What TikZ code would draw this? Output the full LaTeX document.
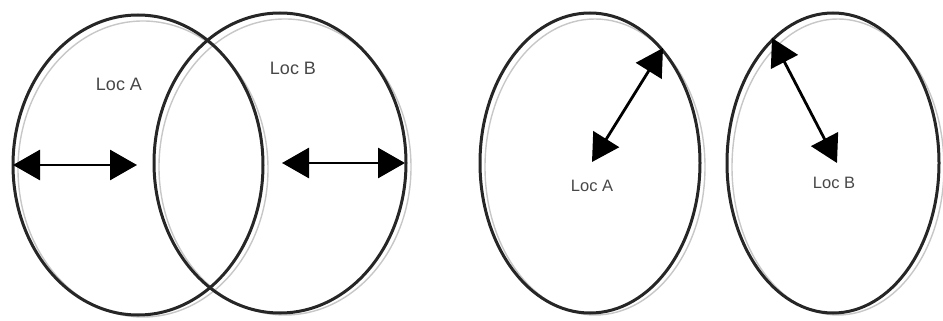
\documentclass[tikz,border=0pt]{standalone}
\usepackage{fontspec}
\setmainfont{Liberation Sans}
\usetikzlibrary{arrows.meta}
\begin{document}
\begin{tikzpicture}[x=1pt,y=-1pt,
  ring/.style={line width=3pt, draw=black!85},
  ghost/.style={line width=1.4pt, draw=black!22},
  dbl/.style={line width=2.8pt, draw=black, {Triangle[length=27pt,width=30pt]}-{Triangle[length=27pt,width=30pt]}},
  lbl/.style={font=\fontsize{18}{18}\selectfont, text=black!72, inner sep=0pt},
  lbls/.style={font=\fontsize{16.5}{16.5}\selectfont, text=black!72, inner sep=0pt}]
\useasboundingbox (0,0) rectangle (943,321);
% centres
\coordinate (cA) at (138,165);
\coordinate (cB) at (280,163);
\coordinate (cC) at (590,163);
\coordinate (cD) at (833,163);
% grey shadow rings
\draw[ghost] ([shift={(5,4)}]cA) ellipse [x radius=125pt, y radius=148pt];
\draw[ghost] ([shift={(5,4)}]cB) ellipse [x radius=126pt, y radius=148pt];
\draw[ghost] ([shift={(5,4)}]cC) ellipse [x radius=110pt, y radius=148pt];
\draw[ghost] ([shift={(5,4)}]cD) ellipse [x radius=106pt, y radius=148pt];
% black rings
\draw[ring] (cA) ellipse [x radius=125pt, y radius=150pt];
\draw[ring] (cB) ellipse [x radius=126pt, y radius=150pt];
\draw[ring] (cC) ellipse [x radius=110pt, y radius=150pt];
\draw[ring] (cD) ellipse [x radius=106pt, y radius=150pt];
% arrow end points
\coordinate (a1) at (13,165);
\coordinate (a2) at (137,165);
\coordinate (b1) at (282,163);
\coordinate (b2) at (405,163);
\coordinate (c1) at (592,162);
\coordinate (c2) at (663,48);
\coordinate (d1) at (772,38);
\coordinate (d2) at (837,163);
\draw[dbl] (a1) -- (a2);
\draw[dbl] (b1) -- (b2);
\draw[dbl] (c1) -- (c2);
\draw[dbl] (d1) -- (d2);
% labels
\node[lbl] (lA) at (119,84) {Loc A};
\node[lbl] (lB) at (293,68) {Loc B};
\node[lbls] (lC) at (592,186) {Loc A};
\node[lbls] (lD) at (834,183) {Loc B};
\end{tikzpicture}
\end{document}
